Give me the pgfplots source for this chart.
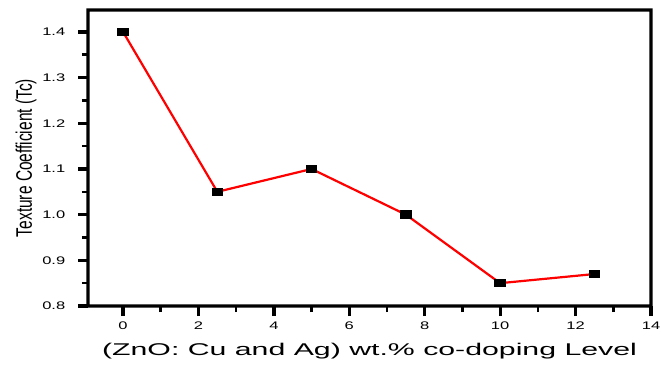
\documentclass[border=0pt]{standalone}
\usepackage{pgfplots}
\pgfplotsset{compat=1.18}
\usepackage{fontspec}
\setmainfont{Liberation Sans}
\begin{document}
\begin{tikzpicture}
\begin{axis}[
  at={(0,0)}, anchor=south west,
  scale only axis,
  width=563pt, height=296pt,
  xmin=-0.93, xmax=14, ymin=0.8, ymax=1.448,
  xtick={0,2,...,14}, ytick={0.8,0.9,...,1.41},
  minor x tick num=1, minor y tick num=1,
  xtick pos=bottom, ytick pos=left,
  every tick/.style={black, line width=3.2pt},
  every minor tick/.style={black, line width=2.6pt},
  major tick length=10pt, minor tick length=6pt,
  tick align=outside,
  /pgf/number format/assume math mode=true,
  /pgf/number format/fixed, /pgf/number format/fixed zerofill,
  yticklabel style={/pgf/number format/precision=1, font=\fontsize{11}{12}\selectfont, xscale=1.5, xshift=-5pt},
  xticklabel style={/pgf/number format/precision=0, font=\fontsize{11}{12}\selectfont, xscale=1.5, yshift=-2pt},
  xlabel={(ZnO: Cu and Ag) wt.\% co-doping Level},
  ylabel={Texture Coefficient (Tc)},
  xlabel style={font=\fontsize{17}{20}\selectfont, xscale=1.78, yshift=-7pt},
  ylabel style={font=\fontsize{15.5}{17}\selectfont, yscale=1.45, yshift=-3pt},
  clip=false,
]
\addplot[red, line width=2.2pt, mark=square*, mark size=3.2pt, mark options={black, xscale=1.45, yscale=1.0}]
coordinates {(0,1.40) (2.5,1.05) (5,1.10) (7.5,1.00) (10,0.85) (12.5,0.87)};
\fill[black, even odd rule]
  ([shift={(-1.6pt,-1.6pt)}]rel axis cs:0,0) rectangle ([shift={(1.6pt,1.6pt)}]rel axis cs:1,1)
  ([shift={(1.6pt,1.6pt)}]rel axis cs:0,0) rectangle ([shift={(-1.6pt,-1.6pt)}]rel axis cs:1,1);
\end{axis}
\pgfresetboundingbox
\path[use as bounding box] (-88pt,-59pt) rectangle (573pt,306pt);
\end{tikzpicture}
\end{document}
